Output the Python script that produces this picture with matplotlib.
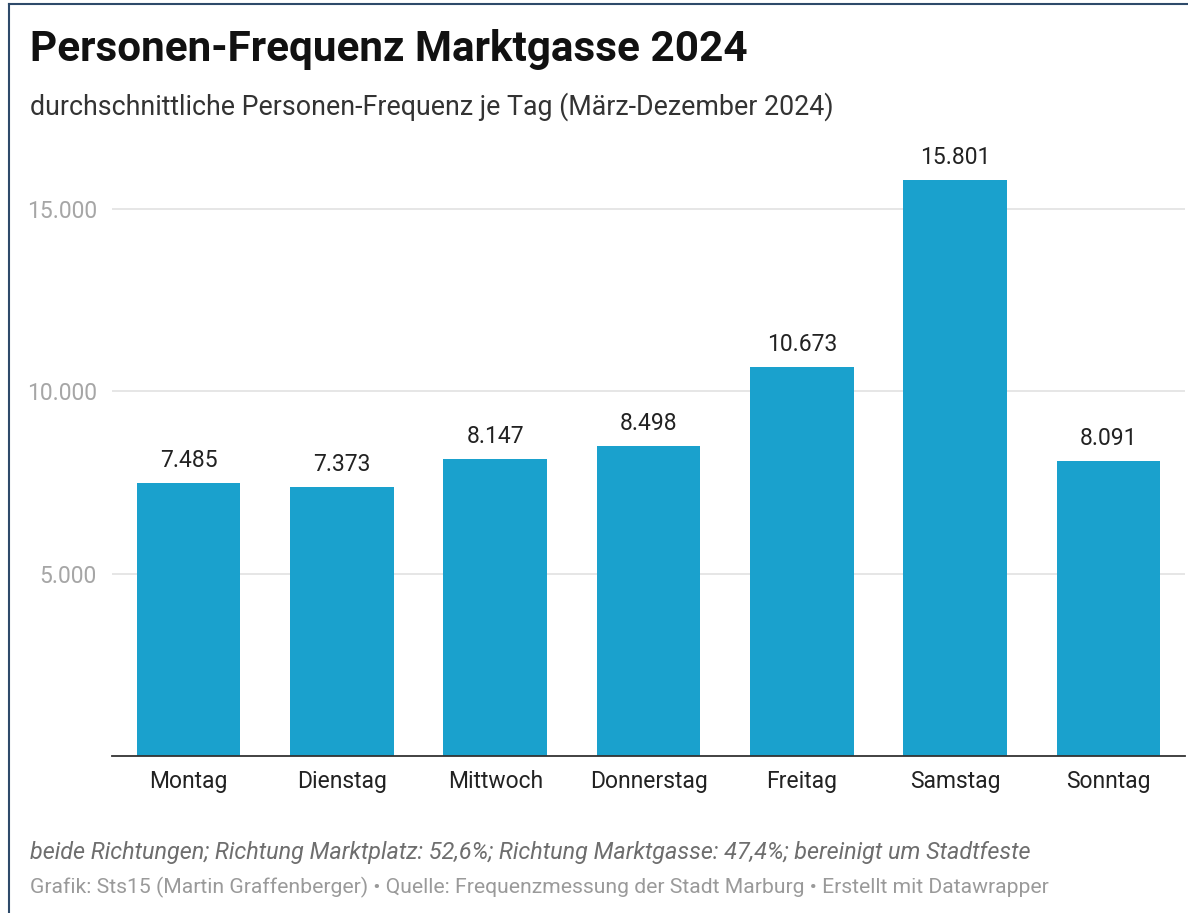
import matplotlib.pyplot as plt
from matplotlib.lines import Line2D

days = ["Montag", "Dienstag", "Mittwoch", "Donnerstag", "Freitag", "Samstag", "Sonntag"]
visitors = [7485, 7373, 8147, 8498, 10673, 15801, 8091]
yticks = [5000, 10000, 15000]

title = "Personen-Frequenz Marktgasse 2024"
subtitle = "durchschnittliche Personen-Frequenz je Tag (März-Dezember 2024)"
note = "beide Richtungen; Richtung Marktplatz: 52,6%; Richtung Marktgasse: 47,4%; bereinigt um Stadtfeste"
credit = "Grafik: Sts15 (Martin Graffenberger) • Quelle: Frequenzmessung der Stadt Marburg • Erstellt mit Datawrapper"

plt.rcParams['font.family'] = ['Roboto', 'DejaVu Sans']

W, H = 1188, 913
fig = plt.figure(figsize=(W / 100, H / 100), dpi=100)

def fx(px):
    return px / W

def fy(py):
    return 1 - py / H

# axes: x from 112 to 1185 px, y from 150 to 756 px
ax = fig.add_axes([fx(112), fy(756), fx(1185) - fx(112), fy(150) - fy(756)])
ymax = (756 - 150) / 36.47 * 1000
ax.set_ylim(0, ymax)
ax.set_xlim(-0.5, len(days) - 0.5)

bar_color = "#1aa1cd"
x = range(len(days))
ax.bar(x, visitors, width=0.675, color=bar_color, zorder=2)

def fmt(v):
    return f"{v:,}".replace(",", ".")

for i, v in enumerate(visitors):
    ax.text(i, v + 300, fmt(v), ha="center", va="bottom", fontsize=16.5,
            color="#222222", clip_on=False)

ax.set_yticks(yticks)
ax.set_yticklabels([fmt(t) for t in yticks], color="#a6a6a6", fontsize=16.5)
ax.yaxis.grid(True, color="#e2e2e2", linewidth=1.2, zorder=0)
ax.tick_params(axis="y", length=0, pad=11)

ax.set_xticks(list(x))
ax.set_xticklabels(days, fontsize=16.5, color="#222222")
ax.tick_params(axis="x", length=0, pad=10)

for s in ["top", "right", "left"]:
    ax.spines[s].set_visible(False)
ax.spines["bottom"].set_color("#333333")
ax.spines["bottom"].set_linewidth(1.3)
ax.spines["bottom"].set_zorder(3)

fig.text(fx(30), fy(49), title, fontsize=30.4, fontweight="bold", color="#111111",
         ha="left", va="center")
fig.text(fx(30), fy(107), subtitle, fontsize=19.3, color="#333333",
         ha="left", va="center")
fig.text(fx(30), fy(852), note, fontsize=16.85, style="italic", color="#6e6e6e",
         ha="left", va="center")
fig.text(fx(30), fy(887), credit, fontsize=15.2, color="#9a9a9a",
         ha="left", va="center")

# frame lines on left and top
fig.add_artist(Line2D([fx(9), fx(9)], [0, fy(4)], color="#2e4a6a", linewidth=1.5))
fig.add_artist(Line2D([fx(9), 1], [fy(4), fy(4)], color="#2e4a6a", linewidth=1.5))

fig.savefig("out.png", dpi=100, facecolor="white")
